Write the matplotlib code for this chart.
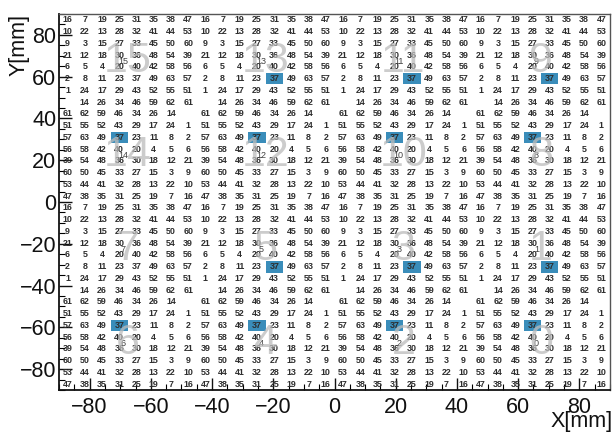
import numpy as np
import matplotlib
matplotlib.use("Agg")
import matplotlib.pyplot as plt
from matplotlib.colors import ListedColormap

# ---- data ----
# 8x8 channel map for upper-oriented modules (top row first); 0 = empty cell
BLOCK_UP = [
    [16, 7, 19, 25, 31, 35, 38, 47],
    [10, 22, 13, 28, 32, 41, 44, 53],
    [9, 3, 15, 27, 33, 45, 50, 60],
    [21, 12, 18, 30, 36, 48, 54, 39],
    [6, 5, 4, 20, 40, 42, 58, 56],
    [2, 8, 11, 23, 37, 49, 63, 57],
    [1, 24, 17, 29, 43, 52, 55, 51],
    [0, 14, 26, 34, 46, 59, 62, 61],
]
# 8x8 channel map for lower-oriented modules (top row first)
BLOCK_DOWN = [
    [61, 62, 59, 46, 34, 26, 14, 0],
    [51, 55, 52, 43, 29, 17, 24, 1],
    [57, 63, 49, 37, 23, 11, 8, 2],
    [56, 58, 42, 40, 20, 4, 5, 6],
    [39, 54, 48, 36, 30, 18, 12, 21],
    [60, 50, 45, 33, 27, 15, 3, 9],
    [53, 44, 41, 32, 28, 13, 22, 10],
    [47, 38, 35, 31, 25, 19, 7, 16],
]
# module numbers, top row of modules first, left to right
MODULE_IDS = [
    [15, 13, 11, 9],
    [14, 12, 10, 8],
    [7, 5, 3, 1],
    [6, 4, 2, 0],
]
MODULE_BLOCK = ["up", "down", "up", "down"]
HIGHLIGHT_CHANNEL = 37
NOT_HIGHLIGHTED = [15, 7]
X_TICKS = [-80, -60, -40, -20, 0, 20, 40, 60, 80]
Y_TICKS = [-80, -60, -40, -20, 0, 20, 40, 60, 80]
X_RANGE = (-90, 90)
Y_RANGE = (-90, 90)

# ---- build the grid (row 0 = top) ----
blocks = {"up": np.array(BLOCK_UP), "down": np.array(BLOCK_DOWN)}
rows = []
mod_rows = []
for r, kind in enumerate(MODULE_BLOCK):
    rows.append(np.tile(blocks[kind], (1, 4)))
    mod_rows.append(np.repeat(np.repeat(np.array(MODULE_IDS[r])[None, :], 8, axis=1), 8, axis=0))
grid = np.vstack(rows)          # 32 x 32, top row first
mods = np.vstack(mod_rows)
n = grid.shape[0]
xe = np.linspace(X_RANGE[0], X_RANGE[1], n + 1)
ye = np.linspace(Y_RANGE[1], Y_RANGE[0], n + 1)
xc = 0.5 * (xe[:-1] + xe[1:])
yc = 0.5 * (ye[:-1] + ye[1:])

hl = (grid == HIGHLIGHT_CHANNEL) & ~np.isin(mods, NOT_HIGHLIGHTED)
hl_data = np.ma.masked_where(~hl, np.ones_like(grid, dtype=float))

font = "Liberation Sans"
plt.rcParams["font.family"] = [font, "DejaVu Sans"]

fig = plt.figure(figsize=(6.12, 4.33), dpi=100)
ax = fig.add_axes([59 / 612, 43 / 433, 551 / 612, 376 / 433])

ax.pcolormesh(xe, ye, hl_data, cmap=ListedColormap(["#3a8dba"]), vmin=0, vmax=1, zorder=1)

for i in range(n):
    for j in range(n):
        v = grid[i, j]
        if v > 0:
            ax.text(xc[j], yc[i], str(v), ha="center", va="center",
                    fontsize=6.4, fontweight="bold", color="#2e2e2e", zorder=2)

# module labels
mcx = [-67.5, -22.5, 22.5, 67.5]
mcy = [67.5, 22.5, -22.5, -67.5]
for r in range(4):
    for c in range(4):
        mid = MODULE_IDS[r][c]
        ax.text(mcx[c] - 1.5, mcy[r], str(mid), ha="center", va="center",
                fontsize=6.5, color="#404040", zorder=3)
        ax.text(mcx[c], mcy[r], str(mid), ha="center", va="center",
                fontsize=31, color="#bcbcbc", alpha=0.75, zorder=4)

ax.set_xlim(*X_RANGE)
ax.set_ylim(*Y_RANGE)
ax.set_xticks(X_TICKS)
ax.set_yticks(Y_TICKS)
ax.set_xticks(np.arange(-90, 91, 5), minor=True)
ax.set_yticks(np.arange(-90, 91, 5), minor=True)
ax.tick_params(which="major", direction="in", length=9, width=1, labelsize=15.5,
               top=False, right=False, pad=5, colors="#111111")
ax.tick_params(which="minor", direction="in", length=4.5, width=0.8, top=False, right=False)
ax.tick_params(axis="y", which="major", pad=2)
for s in ["left", "bottom"]:
    ax.spines[s].set_linewidth(1.3)
    ax.spines[s].set_color("#111111")
for s in ["top", "right"]:
    ax.spines[s].set_linewidth(1.0)
    ax.spines[s].set_color("#555555")

fig.text(613 / 612, 6 / 433, "X[mm]", ha="right", va="baseline", fontsize=15.5, color="#111111")
fig.text(19 / 612, 1 - 14 / 433, "Y[mm]", ha="center", va="top", rotation=90,
         fontsize=15.5, color="#111111")

fig.savefig("out.png", dpi=100)
